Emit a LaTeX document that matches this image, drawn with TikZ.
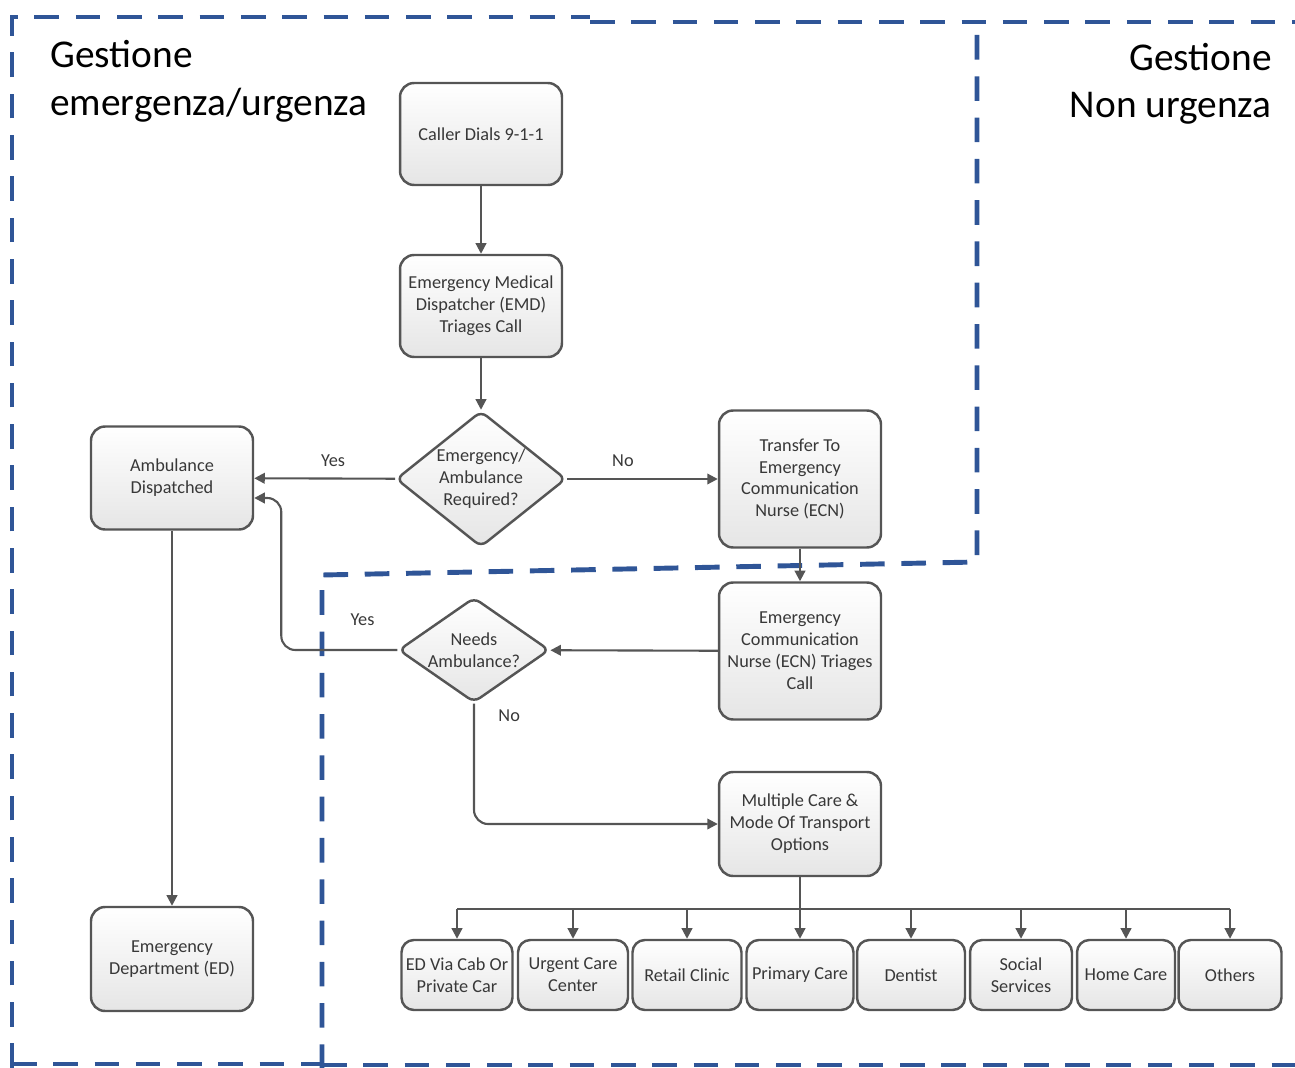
\documentclass[tikz,border=0pt]{standalone}
\usepackage{fontspec}
\setmainfont{Carlito}
\usetikzlibrary{arrows.meta, shapes.geometric, calc}
\definecolor{zonecolor}{HTML}{2F5597}
\definecolor{boxline}{HTML}{555555}
\definecolor{boxtext}{HTML}{383838}
\newcommand\boxfont{\fontsize{10.4}{12.5}\selectfont}
\newcommand\titlefont{\fontsize{22.4}{27}\selectfont}

\begin{document}
\begin{tikzpicture}[x=0.02cm, y=-0.02cm,
    box/.style={draw=boxline, line width=1.4pt, rounded corners=8pt,
                top color=white, bottom color=gray!20, text=boxtext,
                font=\boxfont, align=center, minimum width=3.24cm, inner sep=1pt},
    leaf/.style={box, rounded corners=7pt, minimum height=1.4cm},
    choice/.style={diamond, draw=boxline, line width=1.4pt, rounded corners=4pt,
                top color=white, bottom color=gray!20, text=boxtext,
                font=\boxfont, align=center, inner sep=-4pt},
    flow/.style={draw=boxline, line width=1.2pt, -{Triangle[length=6pt,width=6pt]}},
    tag/.style={font=\boxfont, text=boxtext},
    zone/.style={draw=zonecolor, line width=2.8pt, dash pattern=on 14pt off 9.5pt},
    title/.style={font=\titlefont, text=black, inner sep=0pt}
]
    \useasboundingbox (0,0) rectangle (1295,1068);

    % zones
    \draw[zone] (12,1068) -- (12,17) -- (590,17);
    \draw[zone] (590,22) -- (1295,22);
    \draw[zone] (977,35) -- (977,562) -- (322,575) -- (322,1068);
    \draw[zone] (12,1064) -- (320,1064);
    \draw[zone] (322,1065) -- (1295,1065);

    \node[title, anchor=north west, align=left] (ltitle) at (50,40) {Gestione\\emergenza/urgenza};
    \node[title, anchor=north east, align=right] (rtitle) at (1272,43) {Gestione\\Non urgenza};

    % flow
    \node[box, minimum height=2.04cm] (caller) at (481,134) {Caller Dials 9-1-1};
    \node[box, minimum height=2.04cm] (emd) at (481,306) {Emergency Medical\\Dispatcher (EMD)\\Triages Call};
    \node[choice, minimum width=3.4cm, minimum height=2.72cm] (q1) at (481,479) {Emergency/\\Ambulance\\Required?};
    \node[box, minimum height=2.06cm] (amb) at (172,478) {Ambulance\\Dispatched};
    \node[box, minimum height=2.74cm] (transfer) at (800,479) {Transfer To\\Emergency\\Communication\\Nurse (ECN)};
    \node[box, minimum height=2.74cm] (ecn) at (800,651) {Emergency\\Communication\\Nurse (ECN) Triages\\Call};
    \node[choice, minimum width=3.02cm, minimum height=2.1cm] (q2) at (474,650) {Needs\\Ambulance?};
    \node[box, minimum height=2.08cm] (multi) at (800,824) {Multiple Care \&\\Mode Of Transport\\Options};
    \node[box, minimum height=2.08cm] (ed) at (172,959) {Emergency\\Department (ED)};

    \node[leaf, minimum width=2.22cm] (edcab) at (457,975) {ED Via Cab Or\\Private Car};
    \node[leaf, minimum width=2.2cm] (urgent) at (573,975) {Urgent Care\\Center};
    \node[leaf, minimum width=2.18cm] (retail) at (687,975) {Retail Clinic};
    \node[leaf, minimum width=2.14cm] (primary) at (800,975) {Primary Care};
    \node[leaf, minimum width=2.16cm] (dentist) at (911,975) {Dentist};
    \node[leaf, minimum width=2.04cm] (social) at (1021,975) {Social\\Services};
    \node[leaf, minimum width=1.96cm] (home) at (1126,975) {Home Care};
    \node[leaf, minimum width=2.06cm] (others) at (1230,975) {Others};

    \draw[flow] (caller) -- (emd);
    \draw[flow] (emd) -- (q1);
    \draw[flow] (q1) -- node[tag, above=3pt, pos=0.44] {Yes} (amb);
    \draw[flow] (q1) -- node[tag, above=3pt, pos=0.37] {No} (transfer);
    \draw[flow] (transfer) -- (ecn);
    \draw[flow] (ecn) -- (q2);
    \draw[flow, rounded corners=8pt] (q2.west) -- node[tag, above=10pt, pos=0.3] {Yes} ++(-116,0)
        |- ([yshift=-0.4cm]amb.east);
    \draw[flow, rounded corners=8pt] (q2.south) |- node[tag, right=10pt, pos=0.05] {No} (multi.west);
    \draw[flow] (amb) -- (ed);

    \coordinate (bus) at (800,909);
    \draw[flow] (multi) -- (primary);
    \draw[draw=boxline, line width=1.2pt] (edcab.north |- bus) -- (others.north |- bus);
    \foreach \n in {edcab,urgent,retail,dentist,social,home,others}
        \draw[flow] (\n.north |- bus) -- (\n.north);
\end{tikzpicture}
\end{document}
